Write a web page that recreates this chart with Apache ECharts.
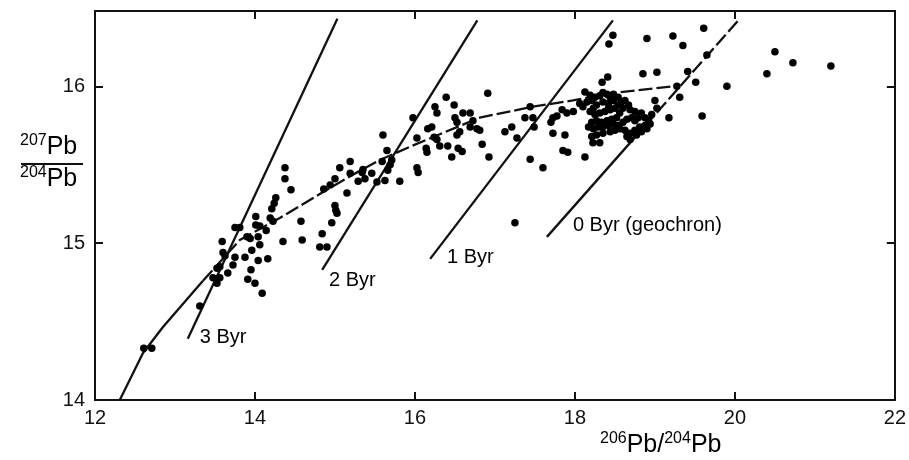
<!DOCTYPE html>
<html><head><meta charset="utf-8">
<script src="https://cdn.jsdelivr.net/npm/echarts@6/dist/echarts.min.js"></script>
<style>html,body{margin:0;padding:0;background:#fff}#c{width:909px;height:460px}</style>
</head><body><div id="c"></div>
<script>
// ---- axis ranges / ticks ----
const xRange = [12, 22];
const xStep = 2;
const yRange = [14, 16.48];
const yStep = 1;

// ---- reference lines (206Pb/204Pb, 207Pb/204Pb) ----
const iso3Byr = [[13.16, 14.39], [15.03, 16.43]];
const iso2Byr = [[14.84, 14.83], [16.78, 16.42]];
const iso1Byr = [[16.19, 14.90], [18.475, 16.42]];
const geochronSolid = [[17.65, 15.04], [18.725, 15.66]];
const geochronDashed = [[18.725, 15.66], [20.06, 16.43]];
const growthSolid = [[12.31, 14.00], [12.60, 14.30], [12.85, 14.465], [13.35, 14.76]];
const growthDashed = [[13.35, 14.76], [13.81, 15.02], [14.31, 15.16], [14.80, 15.31], [15.20, 15.43],
  [15.56, 15.53], [15.94, 15.615], [16.525, 15.74], [16.81, 15.80], [17.475, 15.87],
  [17.975, 15.91], [18.525, 15.96], [19.24, 16.0]];

// ---- line labels ----
const lineLabels = [
  ['3 Byr', 13.31, 14.40],
  ['2 Byr', 14.925, 14.764],
  ['1 Byr', 16.40, 14.91],
  ['0 Byr (geochron)', 17.975, 15.11]
];

// ---- samples ----
const samplesOld = [
  [14.375,15.48],[14.375,15.41],[14.45,15.34],[14.26,15.29],[14.24,15.255],[14.21,15.22],[14.575,15.14],
  [14.59,15.02],[14.35,15.01],[14.19,15.16],[14.225,15.14],[14.01,15.17],[14.01,15.115],[14.06,15.11],
  [14.14,15.08],[13.75,15.10],[13.81,15.10],[13.90,15.04],[13.94,15.03],[14.04,15.04],[14.06,14.99],
  [13.59,15.01],[13.96,14.955],[13.60,14.94],[13.625,14.92],[13.75,14.91],[13.875,14.91],[14.04,14.89],
  [14.16,14.90],[13.725,14.86],[13.56,14.85],[13.525,14.84],[13.95,14.83],[13.66,14.81],[13.475,14.78],
  [13.56,14.78],[13.91,14.77],[14.0,14.745],[13.525,14.745],[14.09,14.68],[13.31,14.60],[12.61,14.33],[12.71,14.33]
];
const samplesMidLeft = [
  [15.975,15.80],[15.60,15.69],[16.16,15.73],[16.21,15.74],[16.24,15.675],[16.275,15.66],[16.025,15.67],
  [16.15,15.58],[16.14,15.605],[16.025,15.48],[16.04,15.45],[15.65,15.59],[15.71,15.53],[15.69,15.50],
  [15.59,15.52],[15.66,15.465],[15.81,15.395],[15.625,15.40],[15.525,15.39],[15.46,15.445],[15.35,15.47],
  [15.34,15.45],[15.19,15.52],[15.06,15.48],[15.19,15.445],[15.375,15.41],[15.29,15.395],[15.0,15.41],
  [14.94,15.37],[14.86,15.345],[15.15,15.32],[15.0,15.24],[15.01,15.21],[15.025,15.19],[14.96,15.13],
  [14.84,15.06],[14.81,14.975],[14.90,14.975]
];
const samplesMid = [
  [16.91,15.955],[16.39,15.93],[16.49,15.88],[16.25,15.87],[16.275,15.83],[16.6,15.83],[16.69,15.83],
  [16.725,15.78],[16.5,15.80],[16.525,15.77],[16.69,15.74],[16.775,15.73],[16.81,15.72],[16.56,15.71],
  [16.525,15.69],[16.41,15.62],[16.31,15.62],[16.54,15.605],[16.59,15.585],[16.46,15.55],[16.84,15.63],
  [16.925,15.55],[17.125,15.71],[17.21,15.74],[17.44,15.87],[17.375,15.80],[17.475,15.80],[17.275,15.67],
  [17.49,15.74],[17.44,15.535],[17.6,15.48],[17.725,15.80],[17.775,15.81],[17.7,15.77],[17.725,15.70],
  [17.875,15.69],[17.84,15.85],[17.9,15.83],[17.85,15.59],[17.91,15.58],[17.25,15.13]
];
const samplesYoung = [
  [18.475,16.325],[18.425,16.27],[18.9,16.305],[19.225,16.32],[19.35,16.26],[19.61,16.37],[18.85,16.08],
  [19.025,16.09],[18.41,16.06],[18.34,16.025],[19.275,16.0],[19.41,16.095],[19.51,16.025],[19.65,16.20],
  [19.9,16.0],[19.31,15.93],[19.175,15.80],[19.59,15.81],[20.5,16.22],[20.725,16.15],[20.4,16.08],
  [21.2,16.13],[19.0,15.91],[19.025,15.86],[18.125,15.55],[18.31,15.64],[18.225,15.64]
];
const samplesCluster = [
  [18.125,15.964],[18.19,15.943],[18.15,15.90],[18.06,15.89],[18.10,15.87],[18.21,15.91],[18.25,15.93],
  [18.31,15.94],[18.35,15.96],[18.40,15.95],[18.44,15.93],[18.48,15.91],[18.42,15.89],[18.35,15.90],
  [18.27,15.88],[18.23,15.86],[18.19,15.84],[18.25,15.82],[18.31,15.83],[18.375,15.84],[18.44,15.85],
  [18.50,15.86],[18.54,15.88],[18.58,15.90],[18.60,15.86],[18.56,15.83],[18.52,15.80],[18.46,15.79],
  [18.40,15.78],[18.33,15.77],[18.27,15.78],[18.21,15.77],[18.17,15.74],[18.23,15.73],[18.29,15.74],
  [18.35,15.74],[18.42,15.75],[18.48,15.76],[18.54,15.75],[18.60,15.77],[18.65,15.79],[18.71,15.80],
  [18.75,15.78],[18.79,15.80],[18.83,15.83],[18.875,15.80],[18.92,15.78],[18.875,15.75],[18.81,15.74],
  [18.75,15.72],[18.69,15.70],[18.625,15.72],[18.56,15.73],[18.50,15.72],[18.44,15.71],[18.35,15.70],
  [18.27,15.69],[18.21,15.68],[18.65,15.68],[18.69,15.66],[18.77,15.69],[18.83,15.71],[18.90,15.73],
  [18.94,15.76],[18.96,15.82],[17.98,15.84],[18.625,15.91],[18.67,15.88],[18.54,15.93],[18.48,15.95],
  [18.42,15.86],[18.69,15.85],[18.75,15.84]
];

const INK = '#111111';
const FONT = 'Liberation Sans, Arial, sans-serif';
function lineSeries(data, dashed) {
  return {
    type: 'line', data: data, symbol: 'none', silent: true, z: 2,
    lineStyle: { color: INK, width: 2.3, type: dashed ? [14, 4] : 'solid' }
  };
}
const axisLineStyle = { show: true, onZero: false, lineStyle: { color: INK, width: 2 } };
const tickStyle = { show: true, inside: true, length: 8, lineStyle: { color: INK, width: 2 } };
const supRich = {
  s: { fontSize: 16, verticalAlign: 'top', lineHeight: 15, fontFamily: FONT, color: INK },
  b: { fontSize: 25, lineHeight: 28, fontFamily: FONT, color: INK }
};

const chart = echarts.init(document.getElementById('c'), null, { renderer: 'canvas' });
chart.setOption({
  animation: false,
  backgroundColor: '#fff',
  grid: { left: 95, right: 13, top: 11, bottom: 60 },
  xAxis: [
    { type: 'value', min: xRange[0], max: xRange[1], interval: xStep, position: 'bottom',
      axisLine: axisLineStyle, axisTick: tickStyle, splitLine: { show: false },
      axisLabel: { fontSize: 20, color: INK, margin: 8, fontFamily: FONT } },
    { type: 'value', min: xRange[0], max: xRange[1], interval: xStep, position: 'top',
      axisLine: axisLineStyle, axisTick: tickStyle, splitLine: { show: false }, axisLabel: { show: false } }
  ],
  yAxis: [
    { type: 'value', min: yRange[0], max: yRange[1], interval: yStep, position: 'left',
      axisLine: axisLineStyle, axisTick: tickStyle, splitLine: { show: false },
      axisLabel: { fontSize: 20, color: INK, margin: 10, fontFamily: FONT,
        formatter: v => (Math.abs(v - Math.round(v)) < 1e-6 ? String(Math.round(v)) : '') } },
    { type: 'value', min: yRange[0], max: yRange[1], interval: yStep, position: 'right',
      axisLine: axisLineStyle, axisTick: tickStyle, splitLine: { show: false }, axisLabel: { show: false } }
  ],
  series: [
    lineSeries(iso3Byr, false),
    lineSeries(iso2Byr, false),
    lineSeries(iso1Byr, false),
    lineSeries(geochronSolid, false),
    lineSeries(geochronDashed, true),
    lineSeries(growthSolid, false),
    lineSeries(growthDashed, true),
    {
      type: 'scatter', z: 3, silent: true, symbol: 'circle', symbolSize: 7.5,
      itemStyle: { color: '#000', opacity: 1 },
      data: [].concat(samplesOld, samplesMidLeft, samplesMid, samplesYoung, samplesCluster)
    },
    {
      type: 'scatter', z: 4, silent: true, symbolSize: 0,
      itemStyle: { opacity: 1 },
      data: lineLabels.map(d => ({ name: d[0], value: [d[1], d[2]] })),
      label: { show: true, position: 'right', distance: 0, formatter: p => p.name,
        fontSize: 20, color: '#000', fontFamily: FONT }
    }
  ],
  graphic: [
    { type: 'text', left: 20, top: 133, style: { text: '{s|207}{b|Pb}', rich: supRich } },
    { type: 'rect', shape: { x: 21, y: 163, width: 62, height: 2 }, style: { fill: INK } },
    { type: 'text', left: 20, top: 165, style: { text: '{s|204}{b|Pb}', rich: supRich } },
    { type: 'text', left: 600, top: 431, style: { text: '{s|206}{b|Pb/}{s|204}{b|Pb}', rich: supRich } }
  ]
});
</script></body></html>
